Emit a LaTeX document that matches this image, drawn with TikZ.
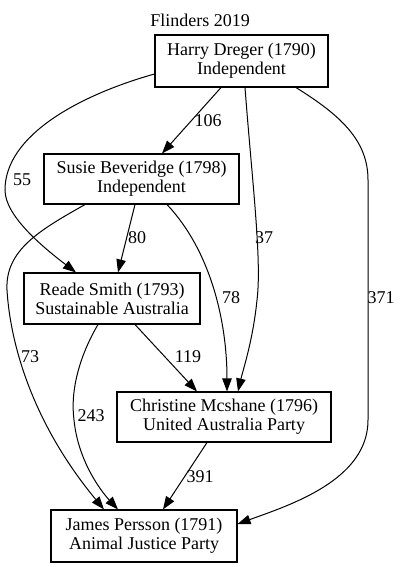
\documentclass[tikz,border=0pt]{standalone}
\usepackage{fontspec}
\setmainfont{Liberation Serif}
\usetikzlibrary{arrows.meta,calc}
\begin{document}
\begin{tikzpicture}[x=1pt,y=-1pt,
  box/.style={draw,line width=1.1pt,rectangle,inner sep=0pt,align=center,font=\fontsize{18}{19}\selectfont},
  lbl/.style={inner sep=0pt,font=\fontsize{18}{19}\selectfont},
  edge/.style={line width=1pt,-{Triangle[length=13pt,width=9.5pt]}}]
\useasboundingbox (0,0) rectangle (402,567);
\node[lbl] (title) at (200,20) {Flinders 2019};
\node[box,minimum width=173pt,minimum height=52pt] (harry) at (241.5,61) {Harry Dreger (1790)\\Independent};
\node[box,minimum width=195pt,minimum height=50pt] (susie) at (141.5,179) {Susie Beveridge (1798)\\Independent};
\node[box,minimum width=176pt,minimum height=51pt] (reade) at (112,298.5) {Reade Smith (1793)\\Sustainable Australia};
\node[box,minimum width=214pt,minimum height=50pt] (christine) at (224,417) {Christine Mcshane (1796)\\United Australia Party};
\node[box,minimum width=186pt,minimum height=52pt] (james) at (144,536) {James Persson (1791)\\Animal Justice Party};
% edges
\draw[edge] ($(harry.south)+(-20.5,0)$) -- ($(susie.north)+(20.5,0)$);
\draw[edge] ($(harry.west)+(0,13)$) .. controls (80,95) and (5,135) .. (5,190) .. controls (5,215) and (40,245) .. ($(reade.north)+(-36,0)$);
\draw[edge] ($(harry.south)+(3.5,0)$) .. controls (252,180) and (262,260) .. (257,300) .. controls (253,340) and (243,370) .. ($(christine.north)+(14,0)$);
\draw[edge] ($(harry.south)+(54.5,0)$) .. controls (340,115) and (368,140) .. (368,180) -- (368,420) .. controls (368,480) and (290,505) .. ($(james.east)+(0,-12)$);
\draw[edge] ($(susie.south)+(-6.5,0)$) -- ($(reade.north)+(6,0)$);
\draw[edge] ($(susie.south)+(25.5,0)$) .. controls (210,250) and (227,320) .. ($(christine.north)+(3,0)$);
\draw[edge] ($(susie.south)+(-56.5,0)$) .. controls (40,230) and (5,250) .. (7,290) .. controls (10,340) and (30,420) .. ($(james.north)+(-40,0)$);
\draw[edge] ($(reade.south)+(23,0)$) -- ($(christine.north)+(-27,0)$);
\draw[edge] ($(reade.south)+(-14,0)$) .. controls (80,355) and (70,390) .. (74,420) .. controls (78,460) and (100,490) .. ($(james.north)+(-26,0)$);
\draw[edge] ($(christine.south)+(-17,0)$) -- ($(james.north)+(19,0)$);
% labels
\node[lbl] (l106) at (208,121) {106};
\node[lbl] (l55) at (22,180) {55};
\node[lbl] (l80) at (137,238) {80};
\node[lbl] (l37) at (264,238) {37};
\node[lbl] (l78) at (231,298) {78};
\node[lbl] (l371) at (381,298) {371};
\node[lbl] (l73) at (30,357) {73};
\node[lbl] (l119) at (188,357) {119};
\node[lbl] (l243) at (91,416) {243};
\node[lbl] (l391) at (200,477) {391};
\end{tikzpicture}
\end{document}
